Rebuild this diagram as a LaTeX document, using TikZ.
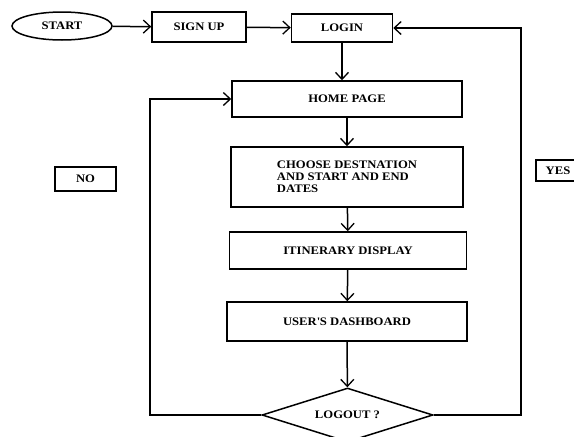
\documentclass[tikz,border=0pt]{standalone}
\usepackage{fontspec}
\setmainfont{Liberation Serif}[FakeStretch=1.1]
\usetikzlibrary{shapes.geometric,arrows.meta}
\begin{document}
\begin{tikzpicture}[x=1pt, y=-1pt, line width=1.5pt,
        every node/.style={font=\fontsize{11.5}{12}\selectfont\bfseries},
        box/.style={draw, rectangle, inner sep=0pt},
        flow/.style={-{Straight Barb[length=7pt, width=13pt, line width=1.3pt]}}]
                \useasboundingbox (0, 0) rectangle (574, 437);
                \node[draw, ellipse, minimum width=100pt, minimum height=28pt] (start) at (62, 26) {START};
                \node[box, minimum width=94pt, minimum height=30pt] (signup) at (199, 27) {SIGN UP};
                \node[box, minimum width=101pt, minimum height=28pt] (login) at (342, 28) {LOGIN};
                \node[box, minimum width=230pt, minimum height=36pt] (home) at (347, 99) {HOME PAGE};
                \node[box, minimum width=232pt, minimum height=60pt, align=left] (choose) at (347, 177) {CHOOSE DESTNATION\\AND START AND END\\DATES};
                \node[box, minimum width=237pt, minimum height=37pt] (itinerary) at (348, 250.5) {ITINERARY DISPLAY};
                \node[box, minimum width=240pt, minimum height=39pt] (dashboard) at (347, 321.5) {USER\textquotesingle S DASHBOARD};
                \node[draw, diamond, aspect=3.2, minimum width=171pt, minimum height=54pt, inner sep=0pt] (logout) at (347.5, 415) {LOGOUT ?};
                \node[box, minimum width=61pt, minimum height=24pt] (no) at (85.5, 179) {NO};
                \node[box, minimum width=44pt, minimum height=21pt] (yes) at (558, 170.5) {YES};
                \path (150, 415) coordinate (noturn);
                \path (521, 415) coordinate (yesturn);
                \draw[flow] (start) -- (signup);
                \draw[flow] (signup) -- (login);
                \draw[flow] (login.south) -- (login.south |- home.north);
                \draw[flow] (home) -- (choose);
                \draw[flow] (choose) -- (itinerary);
                \draw[flow] (itinerary) -- (dashboard);
                \draw[flow] (dashboard) -- (logout);
                \draw[flow] (logout.west) -- (noturn) |- (home.west);
                \draw[flow] (logout.east) -- (yesturn) |- (login.east);
            \end{tikzpicture}
\end{document}
